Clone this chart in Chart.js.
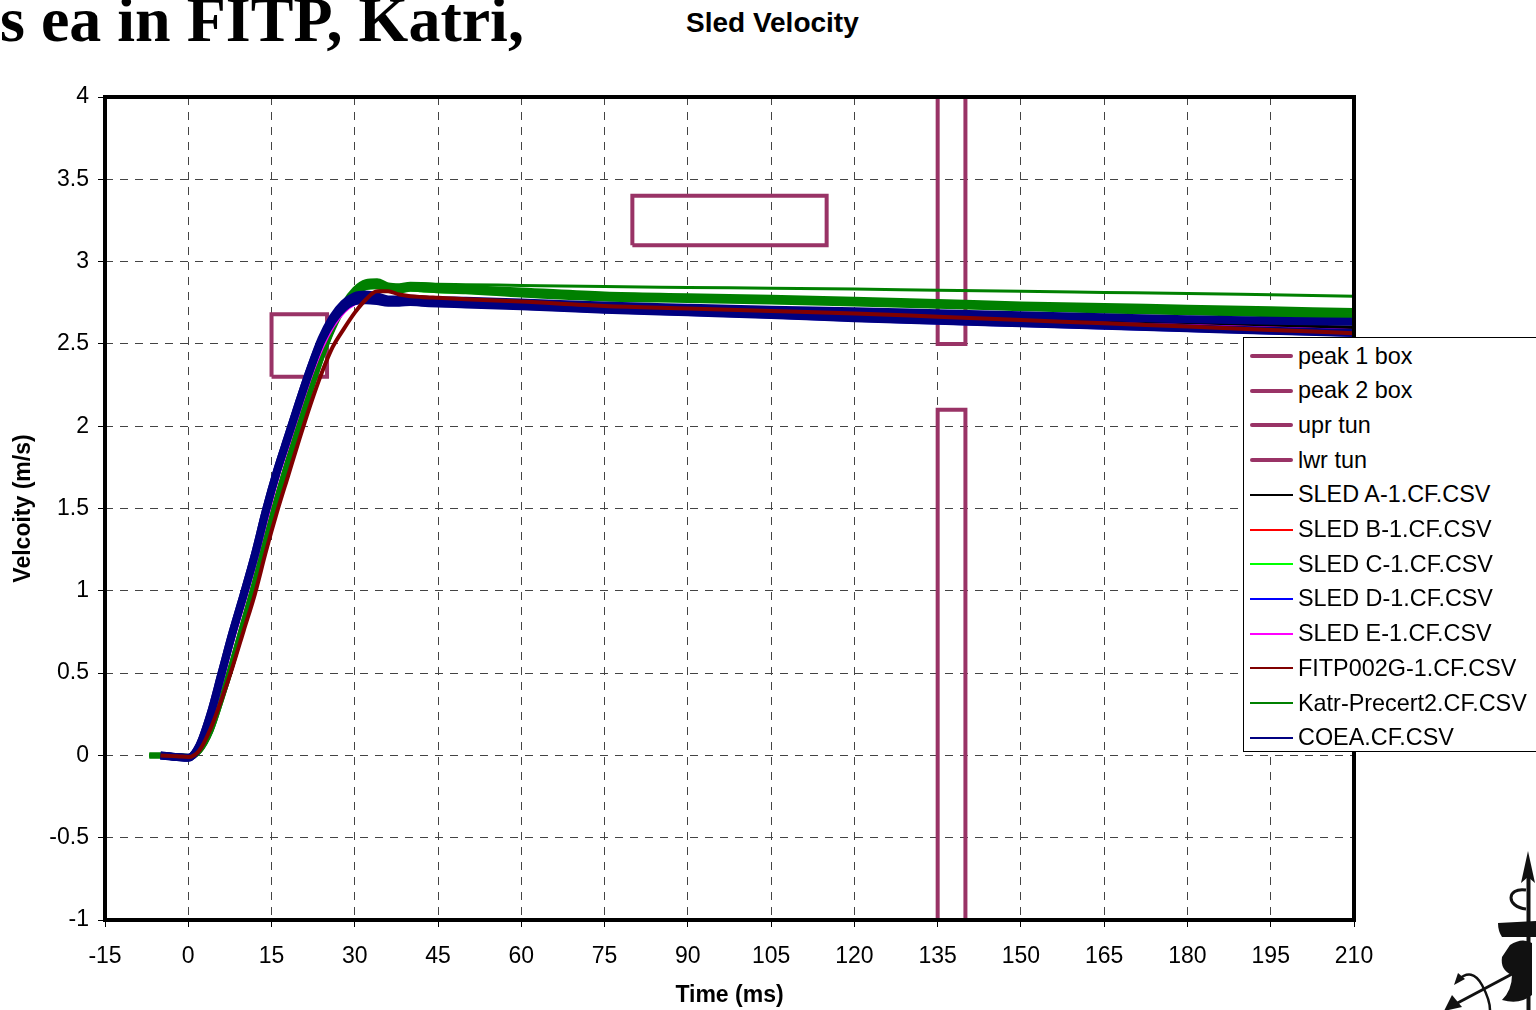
<!DOCTYPE html>
<html>
<head>
<meta charset="utf-8">
<script src="https://cdn.jsdelivr.net/npm/chart.js@4.4.0/dist/chart.umd.min.js"></script>
<style>
  body { margin: 0; width: 1536px; height: 1010px; overflow: hidden; background: #fff; position: relative; font-family: "Liberation Sans", Arial, sans-serif; }
  #chart { position: absolute; left: 0; top: 0; }
  #slide { position: absolute; left: 0; top: -12px; font-family: "Liberation Serif", "Times New Roman", serif; font-weight: bold; font-size: 64px; line-height: 64px; white-space: nowrap; }
  #title { position: absolute; left: 686px; top: 7px; font-weight: bold; font-size: 28px; white-space: nowrap; }
  #legend { position: absolute; left: 1243px; top: 337px; width: 320px; height: 415px; border: 1px solid #000; background: #fff; box-sizing: border-box; }
  .row { position: absolute; left: 6px; height: 34px; display: flex; align-items: center; font-size: 23.4px; white-space: nowrap; color: #000; }
  .sw { width: 43px; margin-right: 5px; }
  #logo { position: absolute; left: 1440px; top: 845px; }
</style>
</head>
<body>
<div id="slide">s ea in FITP, Katri,</div>
<div id="title">Sled Velocity</div>
<canvas id="chart" width="1536" height="1010"></canvas>
<div id="legend"></div>
<svg id="logo" width="96" height="165" viewBox="0 0 96 165">
  <polygon points="88,6 81,38 88,32 95,38" fill="#111"/>
  <rect x="86.5" y="30" width="4" height="135" fill="#111"/>
  <path d="M 86 45 C 66 42, 66 62, 86 64" stroke="#111" stroke-width="3" fill="none"/>
  <path d="M 58 78 L 96 76 L 96 92 L 62 92 Q 58 86 58 78 Z" fill="#111"/>
  <path d="M 70 100 Q 82 92 92 98 L 92 150 Q 80 160 62 155 Q 72 145 72 130 Q 60 125 62 112 Z" fill="#111"/>
  <line x1="10" y1="162" x2="74" y2="128" stroke="#111" stroke-width="3"/>
  <polygon points="4,166 12,150 22,162" fill="#111"/>
  <path d="M 18 135 Q 32 122 42 140 Q 50 155 50 165" stroke="#111" stroke-width="2.5" fill="none"/>
  <polygon points="14,140 18,128 25,134" fill="#111"/>
</svg>
<script>
// 시간축 (ms)
const time = [-7, -5, -2, 0, 2, 4, 6, 8, 10, 12, 14, 16, 18, 20, 22, 24, 26, 28, 30, 32, 34, 36, 38, 40, 42, 45, 50, 60, 75, 90, 105, 120, 135, 150, 165, 180, 195, 210];

// 속도 (m/s)
const sledA = [null, null, -0.01, -0.015, 0.05, 0.24, 0.49, 0.74, 0.97, 1.21, 1.47, 1.72, 1.93, 2.14, 2.34, 2.51, 2.64, 2.72, 2.76, 2.78, 2.775, 2.76, 2.76, 2.765, 2.76, 2.755, 2.75, 2.74, 2.725, 2.71, 2.695, 2.68, 2.665, 2.65, 2.64, 2.625, 2.61, 2.60];
const sledB = [null, null, -0.01, -0.015, 0.05, 0.23, 0.47, 0.72, 0.95, 1.19, 1.45, 1.70, 1.91, 2.12, 2.32, 2.49, 2.62, 2.70, 2.75, 2.77, 2.765, 2.75, 2.75, 2.755, 2.75, 2.745, 2.74, 2.73, 2.715, 2.70, 2.685, 2.665, 2.65, 2.635, 2.62, 2.605, 2.59, 2.575];
const sledC = [0.00, 0.00, -0.005, -0.01, 0.03, 0.15, 0.35, 0.57, 0.81, 1.05, 1.31, 1.56, 1.79, 2.01, 2.22, 2.42, 2.59, 2.72, 2.80, 2.84, 2.845, 2.825, 2.82, 2.83, 2.826, 2.82, 2.815, 2.80, 2.775, 2.765, 2.755, 2.745, 2.73, 2.715, 2.70, 2.69, 2.68, 2.665];
const sledD = [null, null, -0.01, -0.015, 0.06, 0.25, 0.50, 0.75, 0.98, 1.22, 1.48, 1.72, 1.93, 2.14, 2.34, 2.51, 2.63, 2.71, 2.75, 2.76, 2.755, 2.745, 2.745, 2.75, 2.745, 2.74, 2.735, 2.72, 2.698, 2.682, 2.666, 2.646, 2.63, 2.615, 2.60, 2.585, 2.57, 2.555];
const sledE = [null, null, -0.01, -0.015, 0.05, 0.22, 0.46, 0.71, 0.94, 1.18, 1.44, 1.69, 1.90, 2.11, 2.31, 2.48, 2.61, 2.70, 2.75, 2.775, 2.77, 2.755, 2.755, 2.76, 2.755, 2.75, 2.745, 2.735, 2.715, 2.70, 2.685, 2.665, 2.65, 2.635, 2.62, 2.605, 2.59, 2.575];
const fitp = [null, 0.00, -0.005, -0.01, 0.03, 0.16, 0.34, 0.54, 0.76, 0.98, 1.24, 1.48, 1.70, 1.92, 2.13, 2.32, 2.48, 2.59, 2.69, 2.77, 2.82, 2.82, 2.80, 2.79, 2.785, 2.78, 2.772, 2.757, 2.73, 2.715, 2.70, 2.685, 2.665, 2.645, 2.625, 2.605, 2.585, 2.565];
const katrHi = [0.00, 0.00, -0.005, -0.01, 0.03, 0.15, 0.35, 0.57, 0.81, 1.05, 1.31, 1.56, 1.79, 2.01, 2.22, 2.42, 2.60, 2.74, 2.83, 2.875, 2.88, 2.855, 2.85, 2.86, 2.858, 2.85, 2.84, 2.825, 2.80, 2.79, 2.78, 2.768, 2.755, 2.74, 2.73, 2.72, 2.71, 2.70];
const katrLo = [0.00, 0.00, -0.005, -0.01, 0.03, 0.15, 0.35, 0.57, 0.81, 1.05, 1.31, 1.56, 1.79, 2.01, 2.22, 2.42, 2.59, 2.72, 2.80, 2.845, 2.85, 2.83, 2.825, 2.835, 2.832, 2.826, 2.82, 2.80, 2.776, 2.767, 2.757, 2.745, 2.732, 2.717, 2.703, 2.692, 2.68, 2.668];
const katrTop = [0.00, 0.00, -0.005, -0.01, 0.03, 0.15, 0.35, 0.57, 0.81, 1.05, 1.31, 1.56, 1.79, 2.01, 2.22, 2.42, 2.60, 2.74, 2.83, 2.875, 2.88, 2.86, 2.855, 2.865, 2.865, 2.862, 2.86, 2.855, 2.848, 2.843, 2.838, 2.833, 2.826, 2.82, 2.813, 2.806, 2.798, 2.79];
const coeaHi = [null, 0.00, -0.01, -0.015, 0.06, 0.25, 0.50, 0.75, 0.98, 1.22, 1.49, 1.73, 1.94, 2.15, 2.35, 2.53, 2.66, 2.745, 2.79, 2.80, 2.79, 2.77, 2.77, 2.775, 2.77, 2.765, 2.762, 2.752, 2.733, 2.72, 2.708, 2.698, 2.686, 2.674, 2.662, 2.65, 2.64, 2.634];
const coeaLo = [null, 0.00, -0.01, -0.015, 0.06, 0.25, 0.50, 0.75, 0.98, 1.22, 1.49, 1.73, 1.94, 2.15, 2.35, 2.52, 2.64, 2.72, 2.76, 2.765, 2.76, 2.75, 2.75, 2.755, 2.75, 2.745, 2.74, 2.728, 2.708, 2.692, 2.676, 2.656, 2.64, 2.625, 2.61, 2.595, 2.58, 2.566];

// 기준 박스 / 터널
const peak1X = [15, 25, 25, 15, 15];
const peak1Y = [2.3, 2.3, 2.68, 2.68, 2.3];
const peak2X = [80, 115, 115, 80, 80];
const peak2Y = [3.1, 3.1, 3.4, 3.4, 3.1];
const uprX = [135, 135, 140, 140];
const uprY = [4, 2.5, 2.5, 4];
const lwrX = [135, 135, 140, 140];
const lwrY = [-1, 2.1, 2.1, -1];

// 축 눈금
const xTicks = { min: -15, max: 210, step: 15 };
const yTicks = { min: -1, max: 4, step: 0.5 };

const legendLabels = ['peak 1 box', 'peak 2 box', 'upr tun', 'lwr tun', 'SLED A-1.CF.CSV', 'SLED B-1.CF.CSV', 'SLED C-1.CF.CSV', 'SLED D-1.CF.CSV', 'SLED E-1.CF.CSV', 'FITP002G-1.CF.CSV', 'Katr-Precert2.CF.CSV', 'COEA.CF.CSV'];
const legendColors = ['#993366', '#993366', '#993366', '#993366', '#000000', '#ff0000', '#00ff00', '#0000ff', '#ff00ff', '#800000', '#008000', '#000080'];

const BOX = '#993366';

function pts(xs, ys) {
  const out = [];
  xs.forEach((x, i) => { if (ys[i] !== null) out.push({ x, y: ys[i] }); });
  return out;
}

function curve(vals, color, width, order) {
  return { data: pts(time, vals), borderColor: color, borderWidth: width, order, pointRadius: 0, cubicInterpolationMode: 'monotone', fill: false };
}

function box(xs, ys) {
  return { data: pts(xs, ys), borderColor: BOX, borderWidth: 4, order: 20, pointRadius: 0, tension: 0, fill: false, borderJoinStyle: 'miter' };
}

const frame = {
  id: 'frame',
  afterDatasetsDraw(chart) {
    const { ctx, chartArea: a } = chart;
    ctx.save();
    ctx.lineWidth = 4;
    ctx.strokeStyle = '#000';
    ctx.strokeRect(a.left, a.top, a.right - a.left, a.bottom - a.top);
    ctx.restore();
  }
};

Chart.defaults.font.family = '"Liberation Sans", Arial, sans-serif';
Chart.defaults.color = '#000';

new Chart(document.getElementById('chart'), {
  type: 'line',
  data: {
    datasets: [
      box(peak1X, peak1Y),
      box(peak2X, peak2Y),
      box(uprX, uprY),
      box(lwrX, lwrY),
      curve(sledC, '#00ff00', 4, 12),
      curve(sledA, '#000000', 4, 11),
      curve(sledB, '#ff0000', 4, 10),
      curve(katrLo, '#008000', 6, 9),
      curve(katrHi, '#008000', 6, 8),
      curve(katrTop, '#008000', 3, 7),
      curve(sledE, '#ff00ff', 5, 6),
      curve(sledD, '#0000ff', 4, 5),
      curve(coeaLo, '#000080', 8, 4),
      curve(coeaHi, '#000080', 8, 3),
      curve(fitp, '#800000', 4, 2)
    ]
  },
  options: {
    responsive: false,
    animation: false,
    layout: { padding: { top: 97, right: 182, left: 0, bottom: 0 } },
    plugins: { legend: { display: false }, tooltip: { enabled: false } },
    scales: {
      x: {
        type: 'linear',
        min: xTicks.min, max: xTicks.max,
        ticks: { stepSize: xTicks.step, font: { size: 23 }, padding: 16, maxRotation: 0, autoSkip: false },
        grid: { color: '#444', lineWidth: 1, tickLength: 7, tickColor: '#000' },
        border: { display: false, dash: [8, 7] },
        title: { display: true, text: 'Time (ms)', font: { size: 23, weight: 'bold' }, padding: { top: 0, bottom: 1 } },
        afterFit: s => { s.height = 90; }
      },
      y: {
        type: 'linear',
        min: yTicks.min, max: yTicks.max,
        ticks: { stepSize: yTicks.step, font: { size: 23 }, padding: 9, callback: v => String(v) },
        grid: { color: '#444', lineWidth: 1, tickLength: 7, tickColor: '#000' },
        border: { display: false, dash: [8, 7] },
        title: { display: true, text: 'Velcoity (m/s)', font: { size: 23, weight: 'bold' }, padding: { top: 10, bottom: 0 } },
        afterFit: s => { s.width = 105; }
      }
    }
  },
  plugins: [frame]
});

// 범례
const legend = document.getElementById('legend');
legendLabels.forEach((label, i) => {
  const row = document.createElement('div');
  row.className = 'row';
  row.style.top = (1 + i * 34.7) + 'px';
  const sw = document.createElement('div');
  sw.className = 'sw';
  const thick = i < 4;
  sw.style.height = thick ? '4px' : '2px';
  sw.style.borderRadius = thick ? '2px' : '0';
  sw.style.background = legendColors[i];
  const txt = document.createElement('span');
  txt.textContent = label;
  row.appendChild(sw);
  row.appendChild(txt);
  legend.appendChild(row);
});
</script>
</body>
</html>
